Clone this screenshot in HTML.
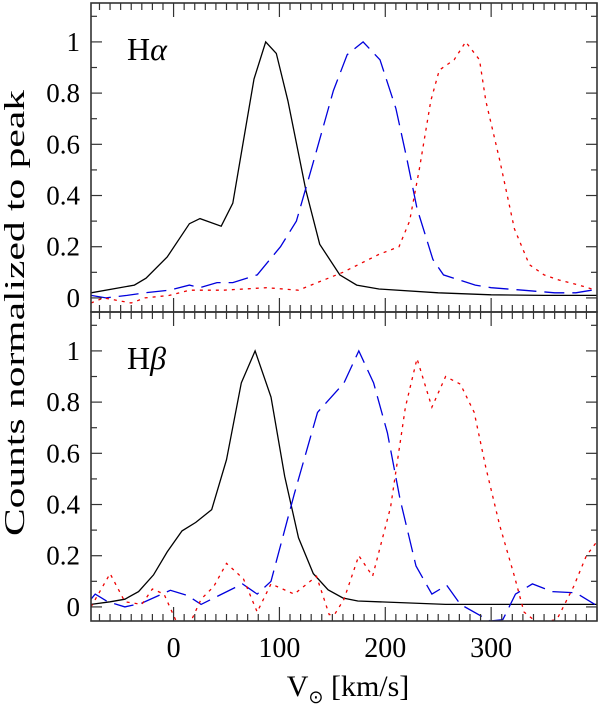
<!DOCTYPE html>
<html><head><meta charset="utf-8">
<style>
body{margin:0;background:#fff;}
svg text{font-family:"Liberation Serif",serif;fill:#000;}
</style></head>
<body>
<svg id="chart" width="600" height="706" viewBox="0 0 600 706" xmlns="http://www.w3.org/2000/svg"></svg>
<script>
// ---- data ----
const haBlackV = [-78,-37,-26,-6,15,25,45,56,65,76,87,97,108,125,138,157,173,194,250,300,350,400];
const haBlackY = [0.02,0.05,0.077,0.16,0.29,0.31,0.28,0.37,0.59,0.855,1.0,0.955,0.77,0.42,0.21,0.09,0.05,0.035,0.02,0.012,0.01,0.01];
const haBlueV = [-78,-64,-44,-27,-4,15,25,41,56,79,101,116,132,151,164,179,195,210,220,230,245,255,270,285,300,330,360,380,395];
const haBlueY = [0.01,0.0,0.01,0.02,0.03,0.05,0.04,0.06,0.06,0.09,0.2,0.3,0.53,0.81,0.95,1.0,0.93,0.74,0.55,0.35,0.15,0.09,0.07,0.05,0.04,0.03,0.02,0.02,0.03];
const haRedV = [-78,-66,-40,-27,-4,15,47,88,118,160,194,213,223,232,243,251,265,276,289,295,308,322,336,350,364,383,399];
const haRedY = [-0.02,0.0,-0.02,0.0,0.01,0.03,0.03,0.04,0.03,0.1,0.17,0.2,0.3,0.5,0.77,0.89,0.93,1.0,0.93,0.77,0.54,0.27,0.13,0.09,0.07,0.05,0.03];
const hbBlackV = [-78,-60,-46,-33,-19,-6,8,21,36,50,64,77,92,105,118,132,146,160,174,257,400];
const hbBlackY = [0.01,0.02,0.03,0.06,0.125,0.215,0.297,0.33,0.38,0.575,0.875,1.0,0.82,0.51,0.27,0.13,0.067,0.035,0.023,0.01,0.01];
const hbBlueV = [-78,-74,-62,-46,-30,-3,13,26,65,79,92,114,136,161,175,189,202,214,229,244,258,271,299,311,323,339,358,380,398];
const hbBlueY = [0.03,0.05,0.02,0.0,0.015,0.065,0.045,0.01,0.09,0.05,0.1,0.44,0.76,0.875,1.0,0.875,0.68,0.42,0.16,0.05,0.085,0.01,-0.055,-0.05,0.05,0.09,0.06,0.055,0.01];
const hbRedV = [-78,-60,-46,-30,-20,-9,3,16,26,38,50,66,79,92,114,135,147,152,161,175,188,205,219,230,244,257,271,284,295,308,322,331,343,362,378,390,399];
const hbRedY = [0.0,0.13,0.02,0.01,0.07,0.05,-0.06,-0.06,0.03,0.08,0.17,0.11,-0.02,0.09,0.05,0.12,-0.03,-0.03,0.03,0.2,0.12,0.39,0.78,0.97,0.78,0.9,0.87,0.76,0.545,0.32,0.12,-0.02,-0.06,-0.05,0.08,0.2,0.25];
const xTicks = [0,100,200,300];
const yTicks = [0,0.2,0.4,0.6,0.8,1];
const yTickLabels = ["0","0.2","0.4","0.6","0.8","1"];

// ---- layout ----
const NS="http://www.w3.org/2000/svg";
const svg=document.getElementById('chart');
const L=91,R=597, XMIN=-78, XMAX=400;
const YMIN=-0.055, YMAX=1.152;
const panels=[{top:3,bot:312,name:'h-alpha-panel',label:'α'},{top:312,bot:621,name:'h-beta-panel',label:'β'}];
function sx(v){return L+(v-XMIN)/(XMAX-XMIN)*(R-L);}
function syF(p){return v=>p.bot-(v-YMIN)/(YMAX-YMIN)*(p.bot-p.top);}
function mk(tag,attrs,parent){const e=document.createElementNS(NS,tag);for(const k in attrs)e.setAttribute(k,attrs[k]);(parent||svg).appendChild(e);return e;}

const series=[
 [[haBlackV,haBlackY],[haBlueV,haBlueY],[haRedV,haRedY]],
 [[hbBlackV,hbBlackY],[hbBlueV,hbBlueY],[hbRedV,hbRedY]]];
const styles=[{c:'#000',d:'',n:'black-solid'},{c:'#0000dd',d:'20,8',n:'blue-dashed'},{c:'#ee0000',d:'3,5',n:'red-dotted'}];

panels.forEach((p,pi)=>{
  const sy=syF(p);
  const g=mk('g',{});
  
  
  const defs=mk('clipPath',{id:'clip'+pi},g);
  mk('rect',{x:L,y:p.top,width:R-L,height:p.bot-p.top},defs);
  series[pi].forEach((s,si)=>{
    const pts=s[0].map((v,i)=>sx(v).toFixed(1)+','+sy(s[1][i]).toFixed(1)).join(' ');
    const pl=mk('polyline',{points:pts,fill:'none',stroke:styles[si].c,'stroke-width':1.3,'stroke-dasharray':styles[si].d,'clip-path':'url(#clip'+pi+')'},g);
    
    
  });
  for(let v=-70;v<=400;v+=10){
    const major=(v%100===0);const len=major?14:7;const x=sx(v);
    mk('line',{x1:x,x2:x,y1:p.bot,y2:p.bot-len,stroke:'#333','stroke-width':1.2},g);
    mk('line',{x1:x,x2:x,y1:p.top,y2:p.top+len,stroke:'#333','stroke-width':1.2},g);
  }
  for(let k=0;k<=11;k++){
    const v=k/10;const major=(k%2===0);const len=major?11:6;const y=sy(v);
    mk('line',{x1:L,x2:L+len,y1:y,y2:y,stroke:'#333','stroke-width':1.2},g);
    mk('line',{x1:R,x2:R-len,y1:y,y2:y,stroke:'#333','stroke-width':1.2},g);
  }
  yTicks.forEach((v,i)=>{
    const t=mk('text',{x:80,y:sy(v)+9,'text-anchor':'end','font-size':27},g);
    t.textContent=yTickLabels[i];
    
    
  });
  const lab=mk('text',{x:127,y:p.top+57,'font-size':32},g);
  lab.textContent='H';
  const ts=mk('tspan',{'font-style':'italic'},lab);ts.textContent=p.label;
  
  
  const fr=mk('rect',{x:L,y:p.top,width:R-L,height:p.bot-p.top,fill:'none',stroke:'#333','stroke-width':1.6},g);
  
  
});
xTicks.forEach(v=>{
  const t=mk('text',{x:sx(v),y:657,'text-anchor':'middle','font-size':28});
  t.textContent=String(v);
  
  
});
const xt=mk('text',{x:348,y:696,'text-anchor':'middle','font-size':30});
xt.innerHTML='V<tspan font-size="18" dy="7">⊙</tspan><tspan dy="-7"> [km/s]</tspan>';


const yt=mk('text',{x:0,y:0,'text-anchor':'middle','font-size':28,textLength:446,lengthAdjust:'spacingAndGlyphs',transform:'translate(24,313) rotate(-90)'});
yt.textContent='Counts normalized to peak';


</script>
</body></html>
